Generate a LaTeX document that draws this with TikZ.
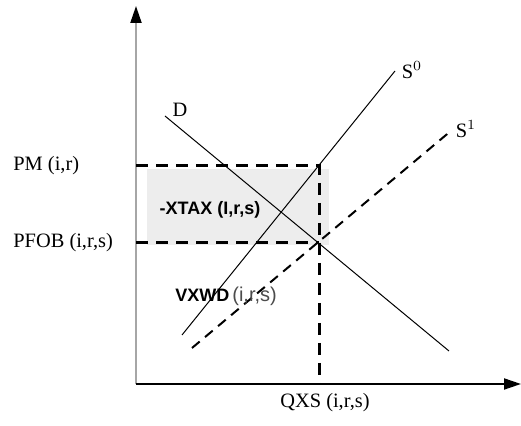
\documentclass[tikz,border=0pt]{standalone}
\usepackage{fontspec}
\setmainfont{Liberation Serif}
\setsansfont{Liberation Sans}
\usepackage{xcolor}
\usetikzlibrary{positioning,arrows.meta,calc}

\begin{document}
\begin{tikzpicture}[x=0.5pt,y=-0.5pt,
  axisline/.style={line width=1pt,-{Triangle[length=8.5pt,width=5.5pt,color=black]}},
  guide/.style={line width=1.5pt,dash pattern=on 6pt off 4pt},
  curve/.style={line width=0.5pt},
  shifted/.style={line width=1pt,dash pattern=on 5pt off 3.5pt},
  lbl/.style={inner sep=0pt,font=\fontsize{10.2}{12}\selectfont},
  area/.style={inner sep=0pt,font=\sffamily\bfseries\fontsize{9}{11}\selectfont}
]
  \useasboundingbox (0,0) rectangle (521,426);
  % axes
  \coordinate (O) at (136,384);
  \coordinate (ytop) at (136,6);
  \coordinate (xend) at (521,384);
  \draw[axisline,draw=black!35] (O) -- (ytop);
  \draw[axisline] (O) -- (xend);

  % tax wedge
  \fill[black!7] (147,169) rectangle (329,245);

  % equilibrium points
  \coordinate (pm) at (319,166);
  \coordinate (pfob) at (319,243);
  \coordinate (q) at (319,384);
  \coordinate (pmaxis) at (136,166);
  \coordinate (pfobaxis) at (136,243);

  % supply and demand
  \coordinate (d0) at (165,116);
  \coordinate (d1) at (449,351);
  \coordinate (s0a) at (182,335);
  \coordinate (s0b) at (395,71);
  \coordinate (s1a) at (192,348);
  \coordinate (s1b) at (452,130);
  \draw[curve] (d0) -- (d1);
  \draw[curve] (s0a) -- (s0b);
  \draw[shifted] (s1a) -- (s1b);

  \draw[guide] (pmaxis) -- (pm) -- (q);
  \draw[guide] (pfobaxis) -- (pfob);

  % labels
  \node[lbl,anchor=west] (PM) at (13,166) {PM (i,r)};
  \node[lbl,anchor=west] (PFOB) at (13,243) {PFOB (i,r,s)};
  \node[lbl] (QXS) at (325,403) {QXS (i,r,s)};
  \node[lbl] (D) at (180,110) {D};
  \node[lbl] (S0) at (412,70) {S$^{0}$};
  \node[lbl] (S1) at (466,129) {S$^{1}$};
  \node[area] (XTAX) at (210,210) {-XTAX (I,r,s)};
  \node[area,anchor=west] (VXWD) at (175,296) {VXWD\,{\mdseries\color{black!70}\fontsize{10}{12}\selectfont (i,r,s)}};
\end{tikzpicture}
\end{document}
